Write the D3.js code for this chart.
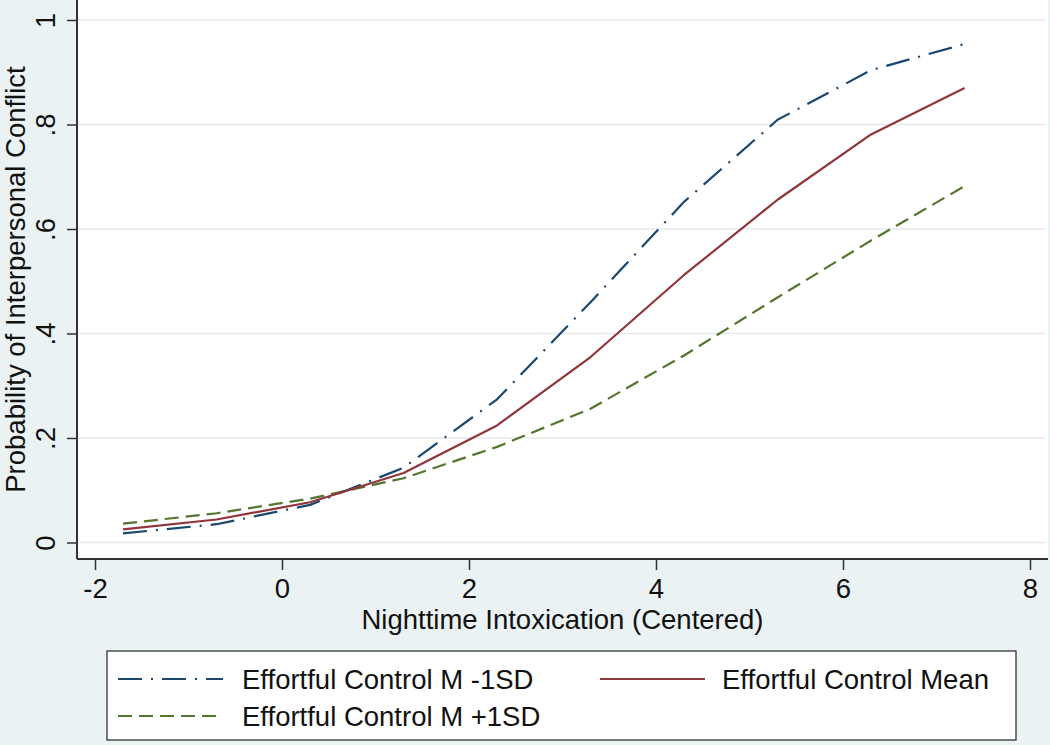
<!DOCTYPE html>
<html>
<head>
<meta charset="utf-8">
<script src="https://cdn.jsdelivr.net/npm/d3@7"></script>
<style>
  html, body { margin: 0; padding: 0; background: #eaf2f3; }
  svg { display: block; font-family: "Liberation Sans", Arial, Helvetica, sans-serif; }
</style>
</head>
<body>
<svg id="chart" width="1050" height="745"></svg>
<script>
// ---- data ----
const xValues = [-1.7, -0.7, 0.3, 1.3, 2.3, 3.3, 4.3, 5.3, 6.3, 7.3];
const ecLow  = [0.0176, 0.035, 0.072, 0.143, 0.274, 0.46, 0.652, 0.809, 0.904, 0.954];
const ecMean = [0.025, 0.044, 0.077, 0.133, 0.224, 0.355, 0.512, 0.656, 0.781, 0.870];
const ecHigh = [0.036, 0.056, 0.084, 0.123, 0.183, 0.256, 0.358, 0.469, 0.578, 0.682];
const seriesNames = ["Effortful Control M -1SD", "Effortful Control Mean", "Effortful Control M +1SD"];
const xTicks = [-2, 0, 2, 4, 6, 8];
const xTickLabels = ["-2", "0", "2", "4", "6", "8"];
const yTicks = [0, 0.2, 0.4, 0.6, 0.8, 1];
const yTickLabels = ["0", ".2", ".4", ".6", ".8", "1"];
const xTitle = "Nighttime Intoxication (Centered)";
const yTitle = "Probability of Interpersonal Conflict";

// ---- layout ----
const plot = { left: 77, right: 1048, top: 0, bottom: 559 };
const svg = d3.select("#chart");
const fontSize = 27.5;

svg.append("rect").attr("x", 0).attr("y", 0).attr("width", 1050).attr("height", 745).attr("fill", "#eaf2f3");
svg.append("rect")
  .attr("x", plot.left).attr("y", plot.top)
  .attr("width", plot.right - plot.left).attr("height", plot.bottom - plot.top)
  .attr("fill", "#ffffff");

const x = d3.scaleLinear().domain([-2, 8]).range([95, 1030]);
const y = d3.scaleLinear().domain([0, 1]).range([542.5, 20]);

// gridlines
svg.append("g").selectAll("line").data(yTicks).join("line")
  .attr("x1", plot.left + 1).attr("x2", plot.right - 3)
  .attr("y1", d => y(d)).attr("y2", d => y(d))
  .attr("stroke", "#e6e9ea").attr("stroke-width", 1.6);

// y axis
const yAxis = svg.append("g").attr("transform", `translate(${plot.left},0)`)
  .call(d3.axisLeft(y).tickValues(yTicks).tickFormat((d, i) => yTickLabels[i]).tickSize(10).tickSizeOuter(0));
yAxis.select(".domain").remove();
yAxis.selectAll(".tick line").attr("stroke", "#333").attr("stroke-width", 1.5);
yAxis.selectAll(".tick text")
  .attr("transform", "rotate(-90)")
  .attr("x", 0).attr("y", -22).attr("dy", 0)
  .attr("text-anchor", "middle")
  .attr("fill", "#111")
  .style("font-size", fontSize + "px");

// x axis
const xAxis = svg.append("g").attr("transform", `translate(0,${plot.bottom})`)
  .call(d3.axisBottom(x).tickValues(xTicks).tickFormat((d, i) => xTickLabels[i]).tickSize(11).tickSizeOuter(0));
xAxis.select(".domain").remove();
xAxis.selectAll(".tick line").attr("stroke", "#333").attr("stroke-width", 1.5);
xAxis.selectAll(".tick text")
  .attr("y", 39).attr("dy", 0)
  .attr("fill", "#111")
  .style("font-size", fontSize + "px");

// axis lines
svg.append("line").attr("x1", plot.left).attr("x2", plot.left).attr("y1", plot.top).attr("y2", plot.bottom)
  .attr("stroke", "#333").attr("stroke-width", 2);
svg.append("line").attr("x1", plot.left).attr("x2", plot.right).attr("y1", plot.bottom).attr("y2", plot.bottom)
  .attr("stroke", "#333").attr("stroke-width", 2);

// titles
svg.append("text")
  .attr("x", (plot.left + plot.right) / 2).attr("y", 629)
  .attr("text-anchor", "middle").attr("fill", "#111")
  .style("font-size", fontSize + "px")
  .text(xTitle);
svg.append("text")
  .attr("transform", `translate(25,${(plot.top + plot.bottom) / 2}) rotate(-90)`)
  .attr("text-anchor", "middle").attr("fill", "#111")
  .style("font-size", fontSize + "px")
  .text(yTitle);

// series
const styles = [
  { values: ecLow,  color: "#1a476f", dash: "24,9,2,9" },
  { values: ecMean, color: "#90353b", dash: null },
  { values: ecHigh, color: "#55752f", dash: "14,7" }
];
const line = d3.line().x(d => x(d[0])).y(d => y(d[1]));
// draw order: high, low, mean (mean on top)
[2, 0, 1].forEach(i => {
  const s = styles[i];
  svg.append("path")
    .datum(xValues.map((v, j) => [v, s.values[j]]))
    .attr("d", line)
    .attr("fill", "none")
    .attr("stroke", s.color)
    .attr("stroke-width", 2.2)
    .attr("stroke-linejoin", "round")
    .attr("stroke-dasharray", s.dash);
});

// legend
const legend = svg.append("g");
legend.append("rect")
  .attr("x", 107).attr("y", 651).attr("width", 909).attr("height", 89)
  .attr("fill", "#ffffff").attr("stroke", "#222").attr("stroke-width", 1.2);
const legendPos = [
  { lx: 118, tx: 242, cy: 679 },
  { lx: 600, tx: 722, cy: 679 },
  { lx: 118, tx: 242, cy: 716 }
];
legendPos.forEach((p, i) => {
  const s = styles[i];
  legend.append("line")
    .attr("x1", p.lx).attr("x2", p.lx + 105)
    .attr("y1", p.cy).attr("y2", p.cy)
    .attr("stroke", s.color).attr("stroke-width", 2.2)
    .attr("stroke-dasharray", s.dash);
  legend.append("text")
    .attr("x", p.tx).attr("y", p.cy + 10)
    .attr("fill", "#111")
    .style("font-size", fontSize + "px")
    .text(seriesNames[i]);
});
</script>
</body>
</html>
